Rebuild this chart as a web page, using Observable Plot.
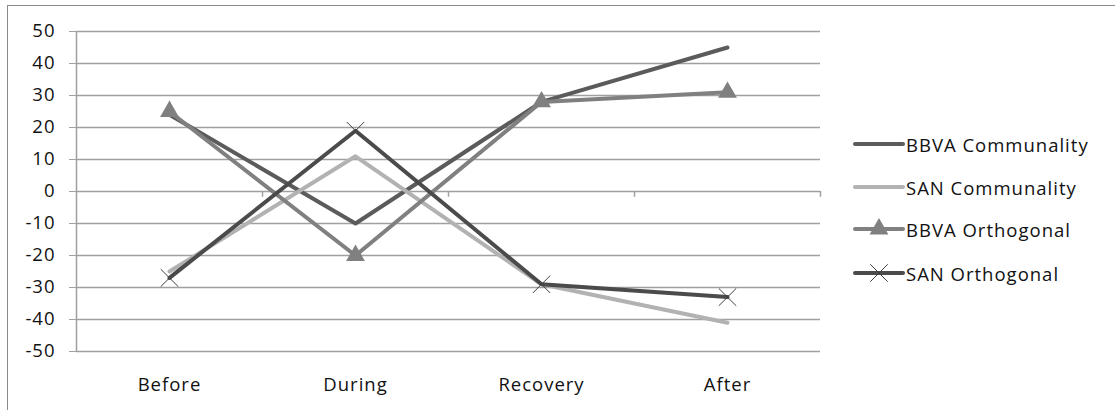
<!DOCTYPE html>
<html>
<head>
<meta charset="utf-8">
<script src="https://cdn.jsdelivr.net/npm/d3@7"></script>
<script src="https://cdn.jsdelivr.net/npm/@observablehq/plot@0.6"></script>
<style>
  html, body { margin: 0; padding: 0; background: #fff; }
  #wrap { position: relative; width: 1115px; height: 410px; overflow: hidden; font-family: "Open Sans", Lato, sans-serif; }
  #border { position: absolute; left: 7px; top: 5px; width: 1200px; height: 500px; border-top: 1.5px solid #8a8a8a; border-left: 1.5px solid #8a8a8a; box-sizing: border-box; }
  #chart { position: absolute; left: 0; top: 0; }
  #legend { position: absolute; left: 853px; top: 0; }
  .item { position: absolute; left: 0; display: flex; align-items: center; white-space: nowrap; font-size: 18.5px; letter-spacing: 1px; color: #111; }
  .item svg { display: block; margin-right: 1px; }
  #chart text { letter-spacing: 1px; }
</style>
</head>
<body>
<div id="wrap">
  <div id="border"></div>
  <div id="chart"></div>
  <div id="legend"></div>
</div>
<script>
const categories = ["Before", "During", "Recovery", "After"];
const seriesNames = ["BBVA Communality", "SAN Communality", "BBVA Orthogonal", "SAN Orthogonal"];
const bbvaCommunality = [24, -10, 28, 45];
const sanCommunality = [-25, 11, -29, -41];
const bbvaOrthogonal = [25, -20, 28, 31];
const sanOrthogonal = [-27, 19, -29, -33];
const yTicks = [-50, -40, -30, -20, -10, 0, 10, 20, 30, 40, 50];

const colors = ["#5b5b5b", "#b2b2b2", "#808080", "#4b4b4b"];
const markers = [null, null, "triangle", "times"];
const allValues = [bbvaCommunality, sanCommunality, bbvaOrthogonal, sanOrthogonal];

const data = [];
seriesNames.forEach((s, i) => categories.forEach((c, j) => data.push({series: s, cat: c, value: allValues[i][j]})));

const marks = [
  Plot.ruleY(yTicks, {stroke: "#a0a0a0", strokeWidth: 1.5}),
  Plot.ruleX([categories[0]], {dx: -93, stroke: "#a0a0a0", strokeWidth: 1.5}),
  Plot.ruleX(categories, {dx: 93, y1: 0, y2: -1.8, stroke: "#a0a0a0", strokeWidth: 1.5}),
  Plot.axisY(yTicks, {tickSize: 7, tickPadding: 14, stroke: "#a0a0a0", fontSize: 18.5, fill: "#111", label: null, tickFormat: d => String(d)}),
  Plot.axisX({tickSize: 0, tickPadding: 26, fontSize: 18.5, fill: "#111", label: null})
];
seriesNames.forEach((s, i) => {
  const d = data.filter(r => r.series === s);
  marks.push(Plot.line(d, {x: "cat", y: "value", stroke: colors[i], strokeWidth: 4, strokeLinejoin: "round", strokeLinecap: "round"}));
  if (markers[i] === "triangle") {
    marks.push(Plot.dot(d, {x: "cat", y: "value", symbol: "triangle", r: 7, fill: colors[i], stroke: "none"}));
  } else if (markers[i] === "times") {
    marks.push(Plot.dot(d, {x: "cat", y: "value", symbol: "times", r: 8, stroke: "#404040", strokeWidth: 1, fill: "none"}));
  }
});

const chart = Plot.plot({
  width: 1115,
  height: 410,
  marginLeft: 76,
  marginRight: 295,
  marginTop: 31,
  marginBottom: 59,
  style: {fontFamily: "'Open Sans', Lato, sans-serif", background: "transparent"},
  x: {type: "point", domain: categories, padding: 0.5, axis: null},
  y: {domain: [-50, 50], axis: null},
  marks
});
document.getElementById("chart").appendChild(chart);

// legend
const legend = d3.select("#legend");
const rowsY = [144, 187, 229, 273];
seriesNames.forEach((s, i) => {
  const item = legend.append("div").attr("class", "item").style("top", (rowsY[i] - 12) + "px").style("height", "24px");
  const svg = item.append("svg").attr("width", 52).attr("height", 24);
  svg.append("line").attr("x1", 2).attr("x2", 50).attr("y1", 12).attr("y2", 12)
    .attr("stroke", colors[i]).attr("stroke-width", 4).attr("stroke-linecap", "round");
  if (markers[i] === "triangle") {
    svg.append("path").attr("transform", "translate(26,12)").attr("d", d3.symbol(d3.symbolTriangle, 7 * 7 * Math.PI)()).attr("fill", colors[i]);
  } else if (markers[i] === "times") {
    svg.append("path").attr("transform", "translate(26,12)").attr("d", d3.symbol(d3.symbolTimes, 8 * 8 * Math.PI)()).attr("stroke", "#404040").attr("fill", "none").attr("stroke-width", 1);
  }
  item.append("span").text(s);
});
</script>
</body>
</html>
